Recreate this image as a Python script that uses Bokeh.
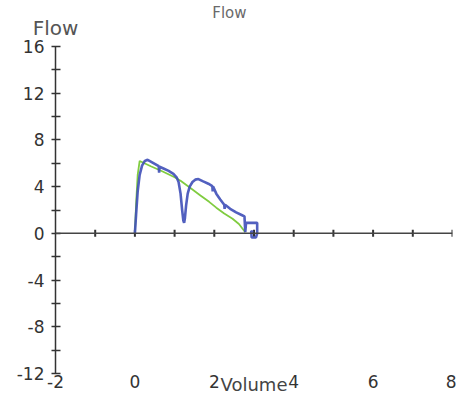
import numpy as np
from bokeh.plotting import figure
from bokeh.models import FixedTicker, Span, Range1d, LinearAxis
from bokeh.embed import file_html
from bokeh.resources import INLINE

# ---- data ----
green_x = [0.00, 0.03, 0.07, 0.12, 0.40, 0.70, 1.00, 1.15, 1.45, 1.65, 1.87, 2.05, 2.25, 2.46, 2.62, 2.78]
green_y = [0.0, 2.5, 5.0, 6.2, 5.75, 5.3, 4.8, 4.5, 3.75, 3.25, 2.7, 2.2, 1.7, 1.25, 0.8, 0.1]

blue_x = [0.00, 0.03, 0.07, 0.12, 0.18, 0.25, 0.32, 0.40, 0.50, 0.60, 0.61, 0.62, 0.72, 0.85,
          0.97, 1.05, 1.10, 1.15, 1.19, 1.22, 1.24, 1.26, 1.29, 1.33, 1.38, 1.45, 1.52, 1.60,
          1.72, 1.85, 1.95, 1.96, 1.97, 2.05, 2.15, 2.25, 2.26, 2.27, 2.40, 2.55, 2.70, 2.76,
          2.78, 2.80, 3.08, 3.08, 3.05, 2.94, 2.93, 2.98]
blue_y = [0.0, 1.6, 3.6, 5.0, 5.8, 6.2, 6.3, 6.15, 5.95, 5.75, 5.2, 5.7, 5.55, 5.35,
          5.1, 4.8, 4.4, 3.4, 2.0, 1.1, 0.9, 1.3, 2.4, 3.4, 4.0, 4.4, 4.6, 4.65,
          4.45, 4.25, 4.05, 3.6, 4.0, 3.4, 2.9, 2.45, 2.1, 2.45, 2.1, 1.8, 1.55, 1.45,
          0.1, 0.9, 0.9, 0.0, -0.35, -0.35, 0.2, 0.1]

x_tick_labels = [-2, 0, 2, 4, 6, 8]
x_axis_ticks = [-1, 0, 1, 2, 3, 4, 5, 6, 7, 8]
y_major = [-12, -8, -4, 0, 4, 8, 12, 16]
y_minor = [-10, -6, -2, 2, 6, 10, 14]

title_text = "Flow"
y_label_text = "Flow"
x_label_text = "Volume"
title_pos = 2.38      # horizontal position of the chart title (x units)
y_label_pos = -2      # the y-axis name sits above the y axis

FONT = "DejaVu Sans"

p = figure(width=456, height=398, x_range=Range1d(-2, 8), y_range=Range1d(-12, 16),
           output_backend="svg", toolbar_location=None,
           min_border_left=55, min_border_right=4, min_border_top=45, min_border_bottom=25)
p.background_fill_color = "white"
p.border_fill_color = "white"
p.outline_line_color = None
p.grid.visible = False
p.title.text = ""

# y axis
ya = p.left[0]
ya.ticker = FixedTicker(ticks=y_major, minor_ticks=y_minor)
ya.major_label_overrides = {t: str(t) for t in y_major}
ya.axis_line_color = "#333333"
ya.axis_line_width = 1.5
ya.major_tick_in = 5
ya.major_tick_out = 4
ya.minor_tick_in = 5
ya.minor_tick_out = 4
ya.major_tick_line_color = "#333333"
ya.minor_tick_line_color = "#333333"
ya.major_tick_line_width = 1.3
ya.minor_tick_line_width = 1.3
ya.major_label_text_font = FONT
ya.major_label_text_font_size = "17px"
ya.major_label_text_color = "#333333"
ya.major_label_standoff = 7

# x axis labels (bottom)
xa = p.below[0]
xa.ticker = FixedTicker(ticks=x_tick_labels, minor_ticks=[])
xa.major_label_overrides = {t: str(t) for t in x_tick_labels}
xa.axis_line_alpha = 0
xa.major_tick_in = 0
xa.major_tick_out = 0
xa.minor_tick_in = 0
xa.minor_tick_out = 0
xa.major_label_text_font = FONT
xa.major_label_text_font_size = "17px"
xa.major_label_text_color = "#333333"
xa.major_label_standoff = 1
xa.axis_label = x_label_text
xa.axis_label_text_font = FONT
xa.axis_label_text_font_size = "18px"
xa.axis_label_text_font_style = "normal"
xa.axis_label_text_color = "#444444"
xa.axis_label_standoff = -17


def text_axis(pos, text, size, color, standoff):
    ax = LinearAxis(ticker=FixedTicker(ticks=[pos], minor_ticks=[]),
                    major_label_overrides={pos: text})
    ax.axis_line_alpha = 0
    ax.major_tick_in = 0
    ax.major_tick_out = 0
    ax.minor_tick_in = 0
    ax.minor_tick_out = 0
    ax.major_label_text_font = FONT
    ax.major_label_text_font_size = size
    ax.major_label_text_color = color
    ax.major_label_standoff = standoff
    return ax


# y-axis name (inner, added first) and chart title (outer), both above the frame
p.add_layout(text_axis(y_label_pos, y_label_text, "20px", "#555555", 7), "above")
p.add_layout(text_axis(title_pos, title_text, "15px", "#6a6a6a", -9), "above")

# x axis line at y = 0
p.add_layout(Span(location=0, dimension="width", line_color="#444444", line_width=1.5))
p.scatter(x=x_axis_ticks, y=[0] * len(x_axis_ticks), marker="dash", angle=np.pi / 2,
          size=7, line_color="#333333", line_width=2)

# curves
p.line(green_x, green_y, line_color="#80cc40", line_width=1.8)
p.line(blue_x, blue_y, line_color="#3f4fb8", line_width=2.6, line_alpha=0.9)

open("out.html", "w").write(file_html(p, INLINE))
